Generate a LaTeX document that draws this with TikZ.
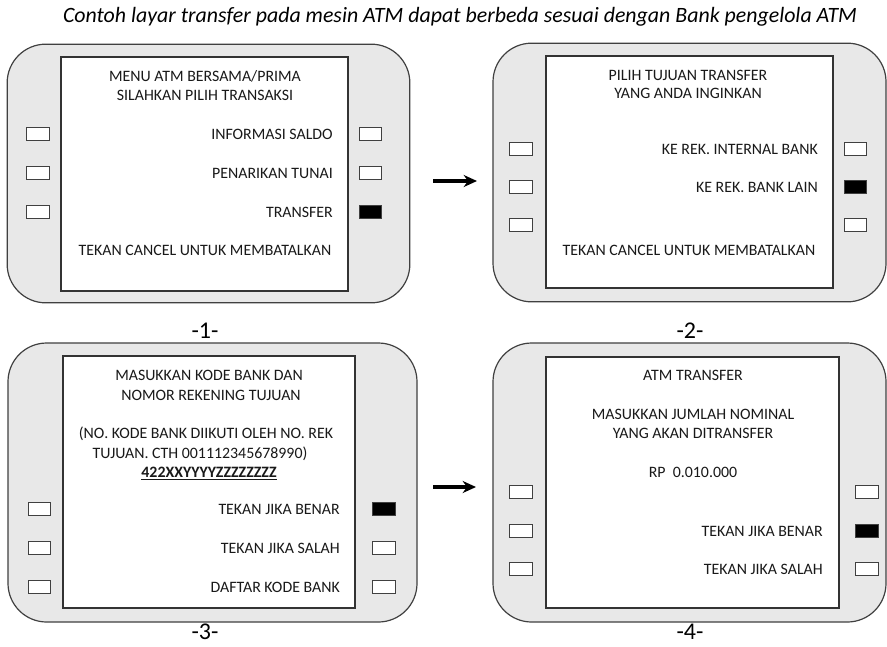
\documentclass[tikz,border=0pt]{standalone}
\usepackage{fontspec}
\setmainfont{Carlito}
\usepackage{tikz}
\usetikzlibrary{arrows.meta, positioning}
\tikzset{
  shell/.style={rectangle, rounded corners=29pt, draw=black!75, fill=black!9,
                line width=0.9pt, inner sep=0pt, outer sep=0pt},
  screen/.style={rectangle, draw=black!80, fill=white, line width=1.1pt,
                 inner sep=0pt, outer sep=0pt},
  btn/.style={rectangle, draw=black!75, fill=white, line width=0.8pt,
              minimum width=17pt, minimum height=9.5pt, inner sep=0pt},
  btnon/.style={btn, fill=black},
  txt/.style={font=\fontsize{11.9}{14}\selectfont, text=black!90, inner sep=0pt,
              text height=7.6pt, text depth=0pt},
  opt/.style={txt, anchor=east},
  tag/.style={font=\fontsize{18}{21}\selectfont, inner sep=0pt,
              text height=11.5pt, text depth=0pt},
  arr/.style={-{Stealth[length=10pt, width=9pt]}, line width=2.3pt},
}

\begin{document}
\begin{tikzpicture}[x=0.75pt, y=-0.75pt]
  \useasboundingbox[fill=white] (0,0) rectangle (887,646);

  % Title
  \node[font=\fontsize{16.4}{19}\selectfont\itshape, inner sep=0pt] (title)
    at (460,17) {Contoh layar transfer pada mesin ATM dapat berbeda sesuai dengan Bank pengelola ATM};

  % Screen 1: main menu
  \node[shell, minimum width=302pt, minimum height=194pt] (shellA) at (208.5,173.5) {};
  \node[screen, minimum width=215pt, minimum height=175.5pt] (scrA) at (204.5,174) {};
  \node[txt] (a-t1) at (205,76) {MENU ATM BERSAMA/PRIMA};
  \node[txt] (a-t2) at (205,95) {SILAHKAN PILIH TRANSAKSI};
  \node[opt] (a-o1) at (333,134) {INFORMASI SALDO};
  \node[opt] (a-o2) at (333,173) {PENARIKAN TUNAI};
  \node[opt] (a-o3) at (333,212) {TRANSFER};
  \node[txt] (a-t3) at (205,250) {TEKAN CANCEL UNTUK MEMBATALKAN};
  \node[btn]   (a-l1) at (38,134) {};
  \node[btn]   (a-l2) at (38,173) {};
  \node[btn]   (a-l3) at (38,212) {};
  \node[btn]   (a-r1) at (370.5,134) {};
  \node[btn]   (a-r2) at (370.5,173) {};
  \node[btnon] (a-r3) at (370.5,212) {};
  \node[tag] (tagA) at (205,331) {-1-};

  % Screen 2: transfer target
  \node[shell, minimum width=294.75pt, minimum height=194pt] (shellB) at (689.5,172.5) {};
  \node[screen, minimum width=215pt, minimum height=174pt] (scrB) at (689.5,172) {};
  \node[txt] (b-t1) at (688,75) {PILIH TUJUAN TRANSFER};
  \node[txt] (b-t2) at (688,93) {YANG ANDA INGINKAN};
  \node[opt] (b-o1) at (818,149) {KE REK. INTERNAL BANK};
  \node[opt] (b-o2) at (818,187) {KE REK. BANK LAIN};
  \node[txt] (b-t3) at (689,250) {TEKAN CANCEL UNTUK MEMBATALKAN};
  \node[btn]   (b-l1) at (521,149) {};
  \node[btn]   (b-l2) at (521,187) {};
  \node[btn]   (b-l3) at (521,225) {};
  \node[btn]   (b-r1) at (855.5,149) {};
  \node[btnon] (b-r2) at (855.5,187) {};
  \node[btn]   (b-r3) at (855.5,225) {};
  \node[tag] (tagB) at (690,331) {-2-};

  % Screen 3: bank code and account
  \node[shell, minimum width=306.75pt, minimum height=209.25pt] (shellC) at (212.5,482.5) {};
  \node[screen, minimum width=219pt, minimum height=189pt] (scrC) at (209,482) {};
  \node[txt] (c-t1) at (209,375) {MASUKKAN KODE BANK DAN};
  \node[txt] (c-t2) at (211,395) {NOMOR REKENING TUJUAN};
  \node[txt] (c-t3) at (206,433) {(NO. KODE BANK DIIKUTI OLEH NO. REK};
  \node[txt] (c-t4) at (200,453) {TUJUAN. CTH 001112345678990)};
  \node[txt, font=\fontsize{11.9}{14}\selectfont\bfseries] (c-t5) at (209,472)
    {\underline{422XXYYYYZZZZZZZZ}};
  \node[opt] (c-o1) at (340,509) {TEKAN JIKA BENAR};
  \node[opt] (c-o2) at (340,548) {TEKAN JIKA SALAH};
  \node[opt] (c-o3) at (340,587) {DAFTAR KODE BANK};
  \node[btn]   (c-l1) at (39.5,509) {};
  \node[btn]   (c-l2) at (39.5,548) {};
  \node[btn]   (c-l3) at (39.5,587) {};
  \node[btnon] (c-r1) at (384,509) {};
  \node[btn]   (c-r2) at (384,548) {};
  \node[btn]   (c-r3) at (384,587) {};
  \node[tag] (tagC) at (205,632) {-3-};

  % Screen 4: amount
  \node[shell, minimum width=294.75pt, minimum height=209.25pt] (shellD) at (689.5,482.5) {};
  \node[screen, minimum width=219.75pt, minimum height=188.25pt] (scrD) at (692.5,482.5) {};
  \node[txt] (d-t1) at (693,375) {ATM TRANSFER};
  \node[txt] (d-t2) at (693,414) {MASUKKAN JUMLAH NOMINAL};
  \node[txt] (d-t3) at (693,433) {YANG AKAN DITRANSFER};
  \node[txt] (d-t4) at (693,472) {RP\ \ 0.010.000};
  \node[opt] (d-o1) at (823,531) {TEKAN JIKA BENAR};
  \node[opt] (d-o2) at (823,569) {TEKAN JIKA SALAH};
  \node[btn]   (d-l1) at (521,492) {};
  \node[btn]   (d-l2) at (521,531) {};
  \node[btn]   (d-l3) at (521,569) {};
  \node[btn]   (d-r1) at (867,492) {};
  \node[btnon] (d-r2) at (867,531) {};
  \node[btn]   (d-r3) at (867,569) {};
  \node[tag] (tagD) at (690,632) {-4-};

  % Arrows between screens
  \coordinate (ab-s) at (433,181);
  \coordinate (ab-e) at (477,181);
  \coordinate (cd-s) at (433,487);
  \coordinate (cd-e) at (476,487);
  \draw[arr] (ab-s) -- (ab-e);
  \draw[arr] (cd-s) -- (cd-e);
\end{tikzpicture}
\end{document}
